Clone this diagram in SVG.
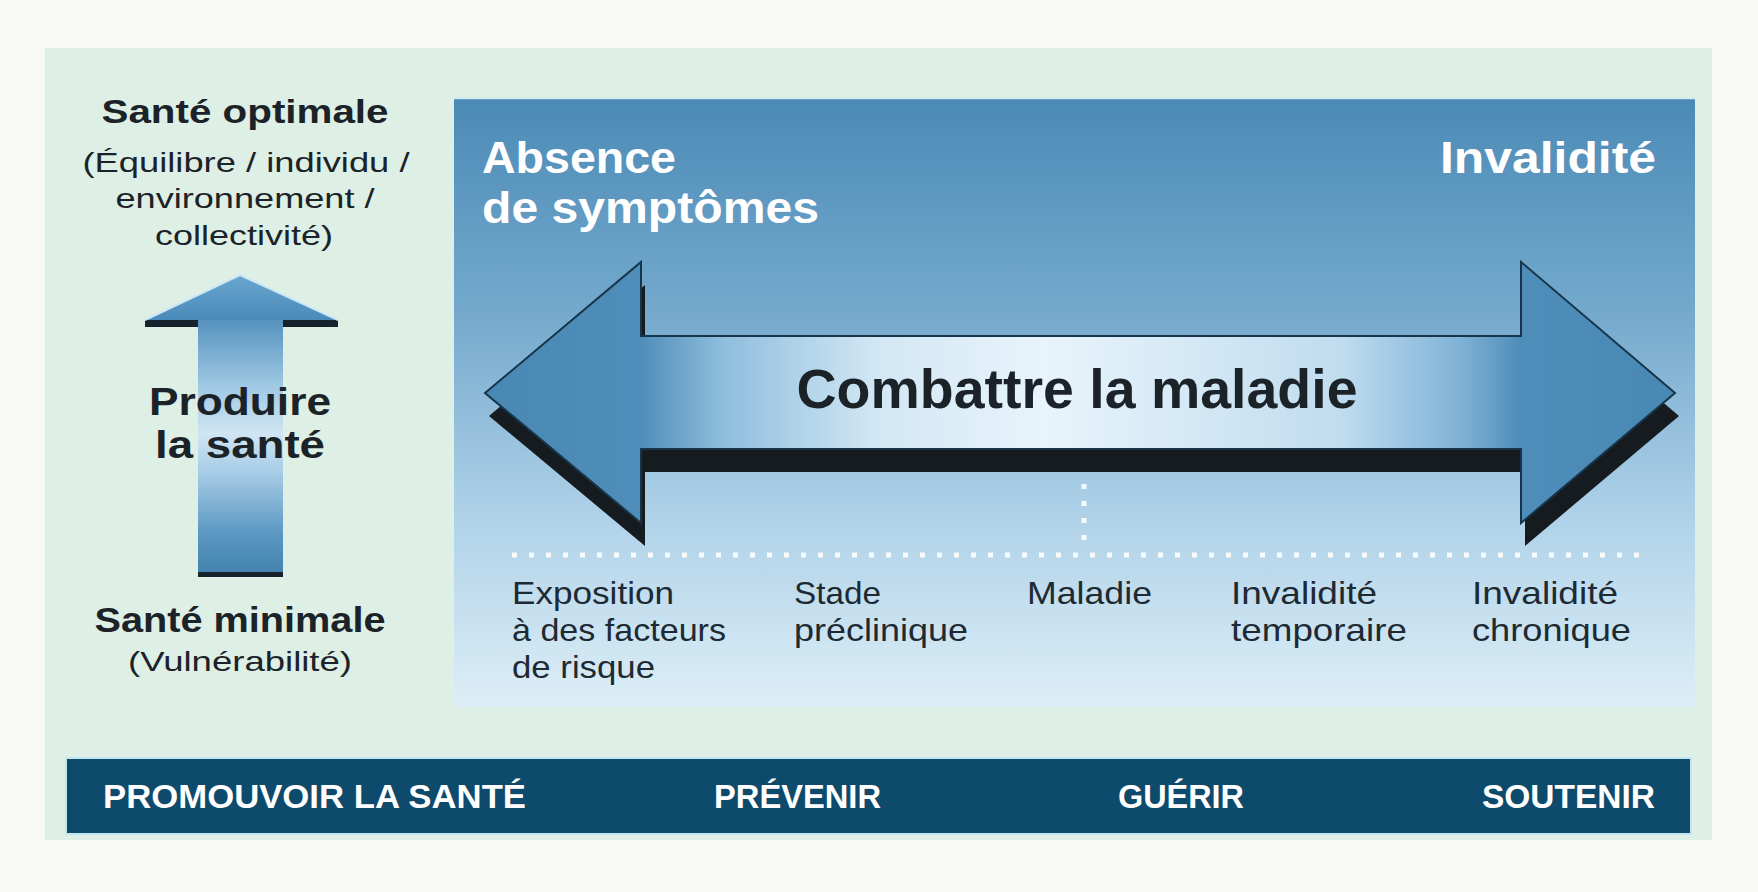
<svg xmlns="http://www.w3.org/2000/svg" width="1758" height="892" viewBox="0 0 1758 892">
<defs>
<style>
text{font-family:"Liberation Sans",Arial,sans-serif;}
.dk{fill:#1b2329;}
.b{font-weight:700;}
.wh{fill:#ffffff;font-weight:700;}
.lbl{font-size:32px;fill:#1e2a33;}
.bar{font-size:33px;fill:#ffffff;font-weight:700;}
.dots{stroke:#ffffff;stroke-width:5;stroke-dasharray:5 12;fill:none;opacity:0.9;}
</style>
<linearGradient id="gPanel" x1="0" y1="0" x2="0" y2="1">
<stop offset="0" stop-color="#4b8ab6"/>
<stop offset="0.35" stop-color="#74a9cd"/>
<stop offset="0.7" stop-color="#b1d3e9"/>
<stop offset="1" stop-color="#ddeef7"/>
</linearGradient>
<linearGradient id="gShaft" x1="485" y1="0" x2="1675" y2="0" gradientUnits="userSpaceOnUse">
<stop offset="0" stop-color="#4a88b4"/>
<stop offset="0.13" stop-color="#4f8dba"/>
<stop offset="0.2" stop-color="#8fbedd"/>
<stop offset="0.33" stop-color="#d2e7f4"/>
<stop offset="0.47" stop-color="#e8f4fb"/>
<stop offset="0.6" stop-color="#d3e8f5"/>
<stop offset="0.72" stop-color="#c0dcef"/>
<stop offset="0.82" stop-color="#7fb2d6"/>
<stop offset="0.87" stop-color="#4f8dba"/>
<stop offset="1" stop-color="#4a88b4"/>
</linearGradient>
<linearGradient id="gUpHead" x1="0" y1="0" x2="0" y2="1">
<stop offset="0" stop-color="#6aa6cf"/>
<stop offset="1" stop-color="#4a8aba"/>
</linearGradient>
<linearGradient id="gUpShaft" x1="0" y1="320" x2="0" y2="572" gradientUnits="userSpaceOnUse">
<stop offset="0" stop-color="#5592be"/>
<stop offset="0.25" stop-color="#9cc6e2"/>
<stop offset="0.45" stop-color="#d0e5f3"/>
<stop offset="0.6" stop-color="#a8cde6"/>
<stop offset="0.85" stop-color="#5a97c2"/>
<stop offset="1" stop-color="#4583b0"/>
</linearGradient>
</defs>

<rect width="1758" height="892" fill="#f8f9f4"/>
<rect id="outer-panel" x="45" y="48" width="1667" height="792" fill="#deefe5"/>

<g id="node-sante-optimale">
<text class="dk b" x="245" y="123" font-size="34" text-anchor="middle" textLength="287" lengthAdjust="spacingAndGlyphs">Santé optimale</text>
<text class="dk" x="246" y="172" font-size="28" text-anchor="middle" textLength="327" lengthAdjust="spacingAndGlyphs">(Équilibre / individu /</text>
<text class="dk" x="245" y="208" font-size="28" text-anchor="middle" textLength="259" lengthAdjust="spacingAndGlyphs">environnement /</text>
<text class="dk" x="244" y="245" font-size="28" text-anchor="middle" textLength="178" lengthAdjust="spacingAndGlyphs">collectivité)</text>
</g>

<g id="node-produire">
<rect x="145" y="320" width="193" height="7" fill="#17232c"/>
<rect x="198" y="570" width="85" height="7" fill="#17232c"/>
<rect x="198" y="318" width="85" height="254" fill="url(#gUpShaft)"/>
<polygon points="240,275 338,320 145,320" fill="url(#gUpHead)"/>
<polyline points="145,320 240,275 338,320" fill="none" stroke="#cde8f4" stroke-width="2"/>
<text class="dk b" x="240" y="415" font-size="38" text-anchor="middle" textLength="182" lengthAdjust="spacingAndGlyphs">Produire</text>
<text class="dk b" x="240" y="458" font-size="38" text-anchor="middle" textLength="170" lengthAdjust="spacingAndGlyphs">la santé</text>
</g>

<g id="node-sante-minimale">
<text class="dk b" x="240" y="632" font-size="35" text-anchor="middle" textLength="291" lengthAdjust="spacingAndGlyphs">Santé minimale</text>
<text class="dk" x="240" y="671" font-size="28" text-anchor="middle" textLength="224" lengthAdjust="spacingAndGlyphs">(Vulnérabilité)</text>
</g>

<g id="node-continuum">
<rect x="454" y="98" width="1241" height="609" fill="url(#gPanel)"/>
<line x1="454" y1="98.5" x2="1695" y2="98.5" stroke="#cfe8f2" stroke-width="1.5"/>
<text class="wh" x="482" y="173" font-size="44" textLength="194" lengthAdjust="spacingAndGlyphs">Absence</text>
<text class="wh" x="482" y="223" font-size="44" textLength="337" lengthAdjust="spacingAndGlyphs">de symptômes</text>
<text class="wh" x="1656" y="173" font-size="44" text-anchor="end" textLength="216" lengthAdjust="spacingAndGlyphs">Invalidité</text>
</g>

<g id="connectors">
<polygon points="489,416 645,285 645,359 1525,359 1525,285 1679,416 1525,546 1525,472 645,472 645,546" fill="#161b20"/>
<polygon points="485,393 641,262 641,336 1521,336 1521,262 1675,393 1521,523 1521,449 641,449 641,523" fill="url(#gShaft)" stroke="#16354a" stroke-width="2" stroke-linejoin="miter"/>
<line class="dots" x1="512" y1="555" x2="1642" y2="555"/>
<line class="dots" x1="1084" y1="484" x2="1084" y2="552"/>
</g>

<g id="node-combattre">
<text class="dk b" x="1077" y="408" font-size="56" text-anchor="middle" textLength="561" lengthAdjust="spacingAndGlyphs">Combattre la maladie</text>
</g>

<g id="node-exposition">
<text class="lbl" x="512" y="604" textLength="162" lengthAdjust="spacingAndGlyphs">Exposition</text>
<text class="lbl" x="512" y="641" textLength="214" lengthAdjust="spacingAndGlyphs">à des facteurs</text>
<text class="lbl" x="512" y="678" textLength="143" lengthAdjust="spacingAndGlyphs">de risque</text>
</g>
<g id="node-stade">
<text class="lbl" x="794" y="604" textLength="87" lengthAdjust="spacingAndGlyphs">Stade</text>
<text class="lbl" x="794" y="641" textLength="174" lengthAdjust="spacingAndGlyphs">préclinique</text>
</g>
<g id="node-maladie">
<text class="lbl" x="1027" y="604" textLength="125" lengthAdjust="spacingAndGlyphs">Maladie</text>
</g>
<g id="node-inv-temp">
<text class="lbl" x="1231" y="604" textLength="146" lengthAdjust="spacingAndGlyphs">Invalidité</text>
<text class="lbl" x="1231" y="641" textLength="176" lengthAdjust="spacingAndGlyphs">temporaire</text>
</g>
<g id="node-inv-chron">
<text class="lbl" x="1472" y="604" textLength="146" lengthAdjust="spacingAndGlyphs">Invalidité</text>
<text class="lbl" x="1472" y="641" textLength="159" lengthAdjust="spacingAndGlyphs">chronique</text>
</g>

<g id="node-actions">
<rect x="66" y="758" width="1625" height="76" fill="#0e4a6b" stroke="#c3e7f1" stroke-width="2"/>
<text class="bar" x="103" y="808" textLength="423" lengthAdjust="spacingAndGlyphs">PROMOUVOIR LA SANTÉ</text>
<text class="bar" x="714" y="808" textLength="167" lengthAdjust="spacingAndGlyphs">PRÉVENIR</text>
<text class="bar" x="1118" y="808" textLength="126" lengthAdjust="spacingAndGlyphs">GUÉRIR</text>
<text class="bar" x="1482" y="808" textLength="173" lengthAdjust="spacingAndGlyphs">SOUTENIR</text>
</g>
</svg>
